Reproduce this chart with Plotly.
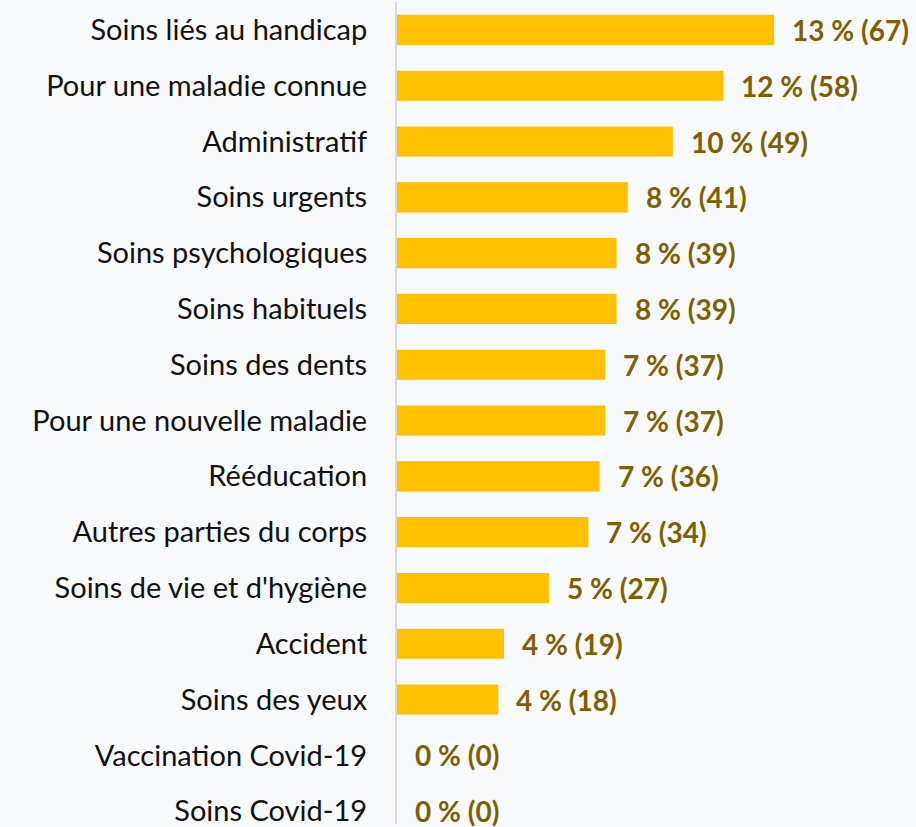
import plotly.graph_objects as go

categories = ["Soins liés au handicap", "Pour une maladie connue", "Administratif",
              "Soins urgents", "Soins psychologiques", "Soins habituels",
              "Soins des dents", "Pour une nouvelle maladie", "Rééducation",
              "Autres parties du corps", "Soins de vie et d'hygiène", "Accident",
              "Soins des yeux", "Vaccination Covid-19", "Soins Covid-19"]
counts = [67, 58, 49, 41, 39, 39, 37, 37, 36, 34, 27, 19, 18, 0, 0]
percents = [13, 12, 10, 8, 8, 8, 7, 7, 7, 7, 5, 4, 4, 0, 0]

labels = [f"{p} % ({c})" for p, c in zip(percents, counts)]

fig = go.Figure()
fig.add_trace(go.Bar(
    y=categories, x=counts, orientation="h",
    marker=dict(color="#FFC000", line=dict(width=0)),
    width=0.54, hoverinfo="skip",
))
for cat, c, lab in zip(categories, counts, labels):
    fig.add_annotation(x=c, y=cat, text=f"<b>{lab}</b>", showarrow=False,
                       xanchor="left", yanchor="middle", xshift=16,
                       font=dict(family="Lato", size=28, color="#7F6000"))

fig.update_layout(
    width=916, height=827,
    margin=dict(l=397, r=0, t=2, b=0),
    paper_bgcolor="#f8f9fb", plot_bgcolor="#f8f9fb",
    showlegend=False,
    font=dict(family="Lato", size=29, color="#111111"),
)
fig.update_xaxes(range=[0, 92.2], visible=False, showgrid=False, zeroline=False)
fig.update_yaxes(range=[14.23, -0.5], showgrid=False, zeroline=False,
                 showline=True, linecolor="#d9d9d9", linewidth=2,
                 ticks="", ticklabelstandoff=22,
                 tickfont=dict(family="Lato", size=29, color="#111111"))
fig.write_html("out.html", config={"displayModeBar": False},
               post_script="document.body.style.margin='0';document.body.style.overflow='hidden';")
